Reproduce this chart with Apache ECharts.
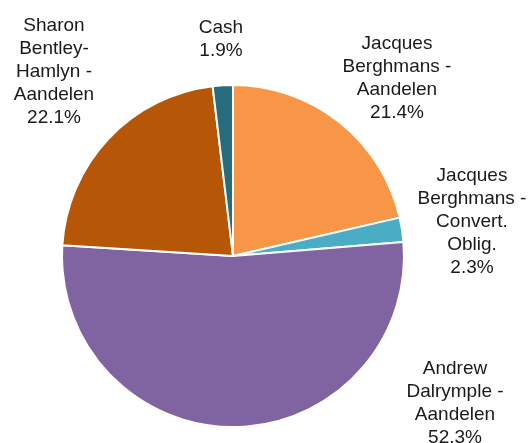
<!DOCTYPE html>
<html>
<head>
<meta charset="utf-8">
<script src="https://cdn.jsdelivr.net/npm/echarts@6/dist/echarts.min.js"></script>
<style>
html,body{margin:0;padding:0;background:#fff;}
#chart{width:528px;height:443px;}
</style>
</head>
<body>
<div id="chart"></div>
<script>
// Data
var categories = [
  'Jacques\nBerghmans -\nAandelen',
  'Jacques\nBerghmans -\nConvert.\nOblig.',
  'Andrew\nDalrymple -\nAandelen',
  'Sharon\nBentley-\nHamlyn -\nAandelen',
  'Cash'
];
var values = [21.4, 2.3, 52.3, 22.1, 1.9];
var colors = ['#F79646', '#4BACC6', '#8064A2', '#B65708', '#276B7D'];
// label block centres (layout)
var labelPos = [[397, 78], [472, 222], [455, 403], [54, 72], [221, 39]];

var chart = echarts.init(document.getElementById('chart'), null, {renderer: 'canvas'});
chart.setOption({
  animation: false,
  series: [{
    type: 'pie',
    center: [233, 256],
    radius: 171,
    startAngle: 90,
    clockwise: true,
    avoidLabelOverlap: false,
    itemStyle: {borderColor: '#fff', borderWidth: 2},
    label: {
      show: true,
      position: 'outside',
      formatter: function (p) { return p.name + '\n' + p.value.toFixed(1) + '%'; },
      fontFamily: 'Liberation Sans',
      fontSize: 19,
      lineHeight: 23,
      color: '#1a1a1a',
      align: 'center'
    },
    labelLine: {show: false},
    labelLayout: function (params) {
      var p = labelPos[params.dataIndex];
      return {x: p[0], y: p[1], align: 'center', verticalAlign: 'middle'};
    },
    data: categories.map(function (c, i) {
      return {name: c, value: values[i], itemStyle: {color: colors[i]}};
    })
  }]
});
</script>
</body>
</html>
